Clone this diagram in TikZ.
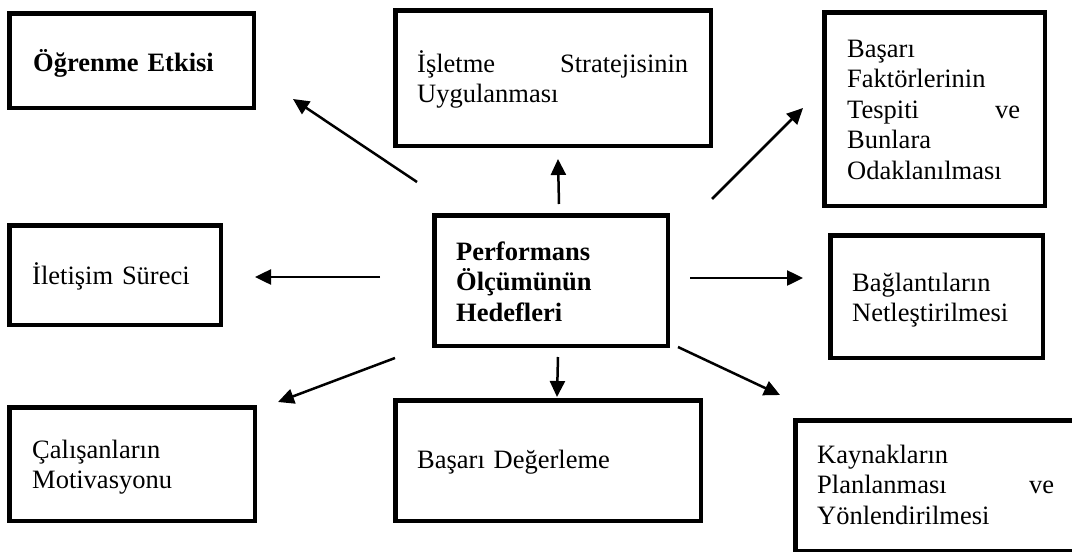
\documentclass[tikz,border=0pt]{standalone}
\usepackage{fontspec}
\setmainfont{Liberation Serif}
\usetikzlibrary{arrows.meta}
\begin{document}
\begin{tikzpicture}[x=1pt,y=-1pt,
  box/.style={draw, line width=4.5pt, inner sep=0pt},
  txt/.style={inner sep=0pt, anchor=base west, align=left, text width=#1,
    font=\fontsize{26.5}{30.5}\selectfont},
  txt/.default=230pt,
  bold/.style={font=\fontsize{26.5}{30.5}\selectfont\bfseries},
  link/.style={line width=2.5pt, -{Triangle[length=16pt,width=15pt]}}]
\useasboundingbox (0,0) rectangle (1072,552);
\clip (0,0) rectangle (1072,552);

% frames
\node[box, minimum width=233.5pt, minimum height=130.5pt] (center)    at (551,280.5) {};
\node[box, minimum width=244.5pt, minimum height=94.5pt]  (learn)     at (131.5,60.5) {};
\node[box, minimum width=315.5pt, minimum height=135.5pt] (strategy)  at (553,78) {};
\node[box, minimum width=220.5pt, minimum height=193.5pt] (factors)   at (934.5,109) {};
\node[box, minimum width=211.5pt, minimum height=99.5pt]  (comm)      at (115,275) {};
\node[box, minimum width=212.5pt, minimum height=122.5pt] (links)     at (936.5,296.5) {};
\node[box, minimum width=245.5pt, minimum height=113.5pt] (motiv)     at (132,464) {};
\node[box, minimum width=305.5pt, minimum height=120.5pt] (eval)      at (548,460.5) {};
\node[box, minimum width=280.5pt, minimum height=130.5pt] (resources) at (935.5,485.5) {};

% texts, placed by the baseline of their first line
\node[txt, bold] (center-t) at (456,260) {Performans\\Ölçümünün\\Hedefleri};
\node[txt, bold] (learn-t) at (33,71) {Öğrenme Etkisi};
\node[txt=271pt] (strategy-t) at (417,72) {İşletme\hfill Stratejisinin\\Uygulanması};
\node[txt=173pt] (factors-t) at (847,57)
  {Başarı\\Faktörlerinin\\Tespiti\hfill ve\\Bunlara\\Odaklanılması};
\node[txt] (comm-t) at (32,284) {İletişim Süreci};
\node[txt] (links-t) at (852,291) {Bağlantıların\\Netleştirilmesi};
\node[txt] (motiv-t) at (32,458) {Çalışanların\\Motivasyonu};
\node[txt] (eval-t) at (417,468) {Başarı Değerleme};
\node[txt=237pt] (resources-t) at (817,463)
  {Kaynakların\\Planlanması\hfill ve\\Yönlendirilmesi};

% arrow ends around the central frame
\coordinate (s-learn) at (417,182);     \coordinate (e-learn) at (293,99);
\coordinate (s-strategy) at (559,204);  \coordinate (e-strategy) at (558,159);
\coordinate (s-factors) at (712,199);   \coordinate (e-factors) at (803,108);
\coordinate (s-comm) at (380,277);      \coordinate (e-comm) at (255,277);
\coordinate (s-motiv) at (395,358);     \coordinate (e-motiv) at (278,402);
\coordinate (s-eval) at (558,357);      \coordinate (e-eval) at (557,397);
\coordinate (s-links) at (690,278);     \coordinate (e-links) at (803,278);
\coordinate (s-resources) at (678,347); \coordinate (e-resources) at (780,395);

\foreach \t in {learn,strategy,factors,comm,motiv,eval,links,resources}
  \draw[link] (s-\t) -- (e-\t);
\end{tikzpicture}
\end{document}
